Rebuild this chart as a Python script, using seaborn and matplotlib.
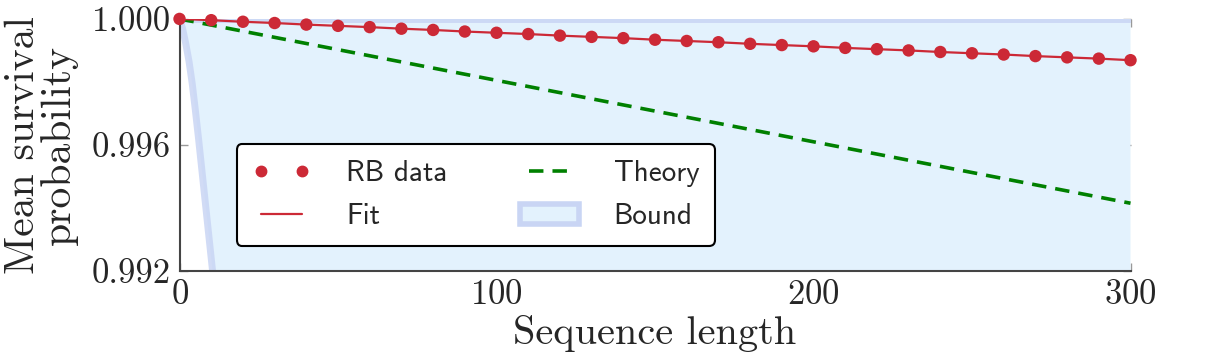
import matplotlib
matplotlib.use("Agg")
import matplotlib.pyplot as plt
import seaborn as sns
import pandas as pd
from matplotlib.patches import Patch
from matplotlib.lines import Line2D

# RB data (mean survival probability vs sequence length)
seq_lengths = [0, 10, 20, 30, 40, 50, 60, 70, 80, 90, 100, 110, 120, 130, 140, 150,
               160, 170, 180, 190, 200, 210, 220, 230, 240, 250, 260, 270, 280, 290, 300]
rb_survival = [1.00000, 0.99996, 0.99991, 0.99987, 0.99982, 0.99978, 0.99974, 0.99969,
               0.99965, 0.99960, 0.99956, 0.99952, 0.99947, 0.99943, 0.99939, 0.99934,
               0.99930, 0.99926, 0.99921, 0.99917, 0.99913, 0.99908, 0.99904, 0.99900,
               0.99895, 0.99891, 0.99887, 0.99882, 0.99878, 0.99874, 0.99869]

# theory curve
theory_x = [0, 100, 200, 300]
theory_y = [1.0, 0.99805, 0.99610, 0.99415]

# bound region
bound_x = [0, 1, 2, 3, 4, 5, 6, 7, 8, 9, 10, 11, 12, 14, 20, 50, 100, 200, 300]
bound_lower = [1.0, 0.99968, 0.99920, 0.99865, 0.99795, 0.99710, 0.99620, 0.99525,
               0.99430, 0.99335, 0.99240, 0.99145, 0.99050, 0.9886, 0.982, 0.95, 0.9, 0.8, 0.7]
bound_upper = [1.0] * len(bound_x)

RED = "#cc2936"
GREEN = "#008000"
FILL = "#e3f2fd"
EDGE = "#c9d5f4"

sns.set_style("ticks")
plt.rcParams["font.family"] = "serif"
plt.rcParams["font.serif"] = ["cmr10", "DejaVu Serif"]
plt.rcParams["mathtext.fontset"] = "cm"
plt.rcParams["axes.formatter.use_mathtext"] = True

df = pd.DataFrame({"length": seq_lengths, "survival": rb_survival})

fig = plt.figure(figsize=(12.13, 3.57), dpi=100)
ax = fig.add_axes([0.148, 0.241, 0.784, 0.706])

ax.fill_between(bound_x, bound_lower, bound_upper, color=FILL, linewidth=0, zorder=1)
ax.plot(bound_x, bound_lower, color=EDGE, linewidth=5, alpha=0.85, zorder=2)
ax.plot(bound_x, bound_upper, color=EDGE, linewidth=5, alpha=0.85, zorder=2)

sns.lineplot(x=theory_x, y=theory_y, ax=ax, color=GREEN, linewidth=2.6,
             dashes=False, linestyle=(0, (4, 2.5)), zorder=3)
sns.lineplot(data=df, x="length", y="survival", ax=ax, color=RED, linewidth=1.6, zorder=4)
sns.scatterplot(data=df, x="length", y="survival", ax=ax, color=RED, s=80,
                edgecolor="none", zorder=5, clip_on=False)

ax.set_xlim(0, 300)
ax.set_ylim(0.992, 1.000)
ax.set_xticks([0, 100, 200, 300])
ax.set_yticks([0.992, 0.996, 1.000])
ax.set_yticklabels(["0.992", "0.996", "1.000"])
ax.tick_params(direction="in", color="#999999", length=6, width=1,
               top=True, right=True, labelsize=25, pad=6)
for side in ["top", "right"]:
    ax.spines[side].set_visible(False)
for side in ["left", "bottom"]:
    ax.spines[side].set_color("#444444")
    ax.spines[side].set_linewidth(1.5)

ax.set_xlabel("Sequence length", fontsize=29, labelpad=3)
ax.set_ylabel("Mean survival\nprobability", fontsize=30, labelpad=10, linespacing=0.95)

handles = [
    Line2D([], [], color=RED, marker="o", linestyle="none", markersize=7.5),
    Line2D([], [], color=RED, linewidth=1.6),
    Line2D([], [], color=GREEN, linewidth=2.6, linestyle=(0, (4, 2.5))),
    Patch(facecolor=FILL, edgecolor=EDGE, linewidth=4),
]
labels = ["RB data", "Fit", "Theory", "Bound"]
leg = ax.legend(handles, labels, ncol=2, loc="lower left", bbox_to_anchor=(0.06, 0.099),
                borderaxespad=0,
                prop={"family": "cmss10", "size": 21}, numpoints=2, handlelength=2.0,
                handletextpad=1.2, columnspacing=2.5, frameon=True, fancybox=True,
                borderpad=0.55, labelspacing=0.55)
leg.get_frame().set_edgecolor("black")
leg.get_frame().set_linewidth(1.5)
leg.get_frame().set_alpha(1.0)
leg.get_frame().set_facecolor("white")

fig.savefig("out.png", dpi=100)
